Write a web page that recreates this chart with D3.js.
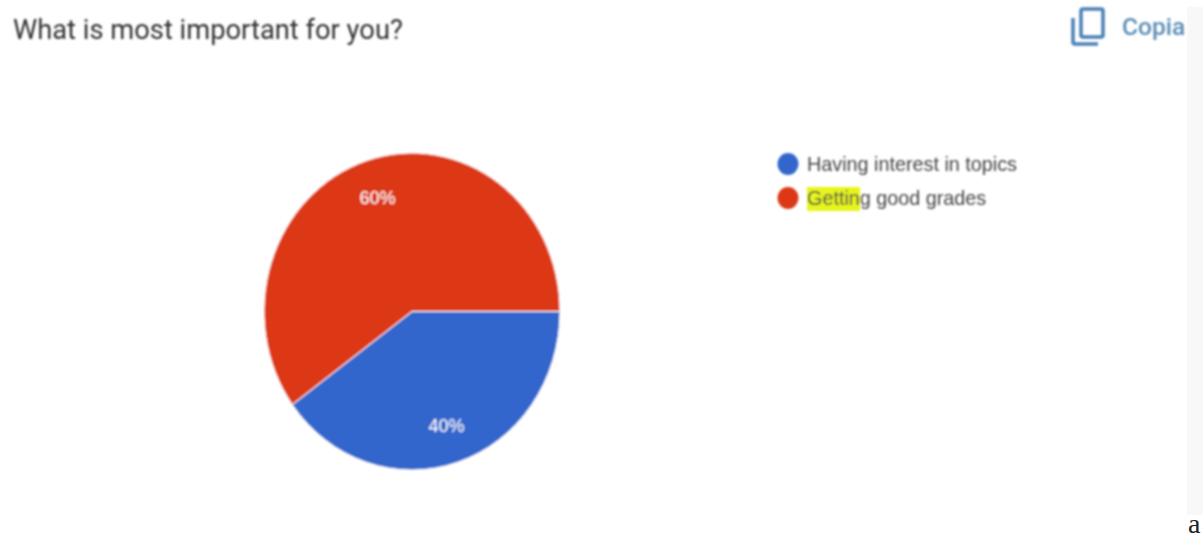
<!DOCTYPE html>
<html>
<head>
<meta charset="utf-8">
<script src="https://cdn.jsdelivr.net/npm/d3@7"></script>
<style>
html,body{margin:0;padding:0;background:#fff;overflow:hidden}
svg{display:block}
text{font-family:Roboto,"Liberation Sans",sans-serif}
</style>
</head>
<body>
<svg id="chart" width="1203" height="534"></svg>
<script>
const categories = ["Having interest in topics", "Getting good grades"];
const shares = [40, 60];
const sliceColors = ["#3366cc", "#dc3912"];
const heading = "What is most important for you?";
const copyLabel = "Copia";

const svg = d3.select("#chart");
const defs = svg.append("defs");
defs.append("filter").attr("id", "soft").attr("x", "-10%").attr("y", "-10%").attr("width", "120%").attr("height", "120%")
  .append("feGaussianBlur").attr("stdDeviation", 0.9);

// scrollbar gutter on the right edge
svg.append("rect").attr("x", 1187).attr("y", 7).attr("width", 16).attr("height", 508).attr("fill", "#f8f8f8");

const page = svg.append("g").attr("filter", "url(#soft)");

page.append("text").attr("x", 13).attr("y", 39)
  .attr("font-size", 27.3).attr("fill", "#333").text(heading);

// copy icon
const icon = page.append("g").attr("fill", "none").attr("stroke", "#4a7fb5").attr("stroke-width", 3.5);
icon.append("rect").attr("x", 1081).attr("y", 9).attr("width", 22).attr("height", 28).attr("rx", 2);
icon.append("path").attr("d", "M1073 18V42a2 2 0 0 0 2 2H1098");
page.append("text").attr("x", 1122).attr("y", 35)
  .attr("font-size", 24.5).attr("font-weight", 500).attr("fill", "#5b8db8").text(copyLabel);

// pie, squashed horizontally the way the screenshot is
const radiusY = 158.5, radiusX = 148;
const pie = d3.pie().sort(null).value(d => d)
  .startAngle(Math.PI / 2).endAngle(Math.PI / 2 + 2 * Math.PI);
const arcs = pie(shares);
const arc = d3.arc().innerRadius(0).outerRadius(radiusY);
const labelArc = d3.arc().innerRadius(radiusY * 0.755).outerRadius(radiusY * 0.755);

const pieGroup = page.append("g")
  .attr("transform", `translate(412,311.5) scale(${radiusX / radiusY},1)`);
pieGroup.selectAll("path").data(arcs).join("path")
  .attr("d", arc)
  .attr("fill", (d, i) => sliceColors[i])
  .attr("stroke", "#fff").attr("stroke-width", 1);
pieGroup.selectAll("text").data(arcs).join("text")
  .attr("transform", d => {
    const [x, y] = labelArc.centroid(d);
    return `translate(${x},${y}) scale(${radiusY / radiusX},1)`;
  })
  .attr("text-anchor", "middle").attr("dy", "0.35em")
  .style("font-family", "'Liberation Sans',sans-serif")
  .attr("font-size", 18).attr("fill", "#fff")
  .text(d => d.data + "%");

// legend
const rowY = d3.scaleOrdinal().domain(categories).range([164, 198]);
page.append("rect").attr("x", 807).attr("y", 187).attr("width", 53).attr("height", 24).attr("fill", "#e8f51e");
const legend = page.selectAll("g.row").data(categories).join("g").attr("class", "row")
  .attr("transform", d => `translate(0,${rowY(d)})`);
legend.append("ellipse").attr("cx", 788).attr("rx", 10.5).attr("ry", 11)
  .attr("fill", (d, i) => sliceColors[i]);
legend.append("text").attr("x", 807).attr("dy", "0.35em")
  .style("font-family", "'Liberation Sans',sans-serif")
  .attr("font-size", 19.8).attr("fill", "#444").text(d => d);

// stray character below the screenshot
svg.append("text").attr("x", 1188).attr("y", 533)
  .style("font-family", "'Liberation Serif',serif").attr("font-size", 28).attr("fill", "#222").text("a");
</script>
</body>
</html>
